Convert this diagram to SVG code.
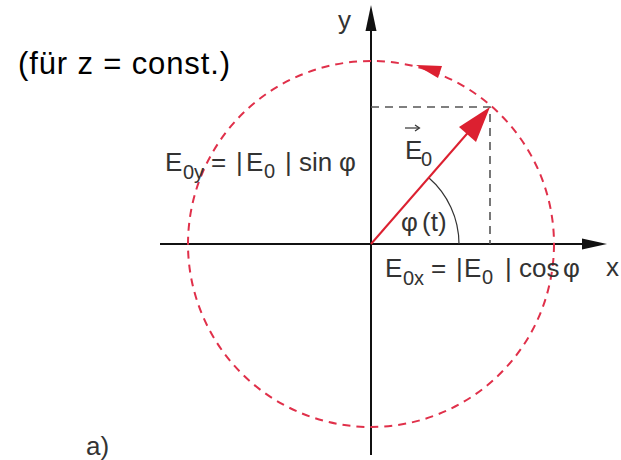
<svg xmlns="http://www.w3.org/2000/svg" width="621" height="460" viewBox="0 0 621 460">
<style>
.lbl{font-family:"Liberation Sans",Arial,sans-serif;font-size:26px;fill:#333}
.sub{font-size:20px}
.axis{stroke:#111;stroke-width:2;fill:none}
.dash{stroke:#555;stroke-width:1.6;stroke-dasharray:8 6;fill:none}
.circ{stroke:#e0304a;stroke-width:2;stroke-dasharray:8 6;fill:none}
.red{fill:#dc2030}
</style>
<rect width="621" height="460" fill="#fff"/>
<g id="connectors">
  <line class="axis" x1="371" y1="455" x2="371" y2="28"/>
  <polygon points="371,5 365.5,31 376.5,31" fill="#111"/>
  <line class="axis" x1="160" y1="244" x2="585" y2="244"/>
  <polygon points="607,244 582,238.5 582,249.5" fill="#111"/>
</g>
<g id="circle">
  <circle class="circ" cx="371" cy="244" r="183"/>
  <polygon class="red" points="416,65 442,66 438,78"/>
</g>
<g id="projections">
  <polyline class="dash" points="371,107 490,107 490,244"/>
</g>
<g id="angle">
  <path d="M459,244 A88,88 0 0 0 428.5,177.5" stroke="#333" stroke-width="1.2" fill="none"/>
</g>
<g id="vector">
  <line x1="371" y1="244" x2="472" y2="128" stroke="#dc2030" stroke-width="2"/>
  <polygon class="red" points="490,107 476,142 459,127"/>
</g>
<g id="labels">
  <text x="338" y="29" class="lbl" font-size="27">y</text>
  <text x="606" y="276" class="lbl" font-size="27">x</text>
  <text class="lbl"><tspan x="405" y="159">E</tspan><tspan class="sub" x="421" y="166">0</tspan></text>
  <line x1="405" y1="128" x2="419" y2="128" stroke="#333" stroke-width="1.2"/>
  <polyline points="415,125 419.5,128 415,131" stroke="#333" stroke-width="1.2" fill="none"/>
  <text class="lbl"><tspan x="401" y="231">φ</tspan><tspan x="422" y="231">(t)</tspan></text>
  <text class="lbl"><tspan x="165" y="171">E</tspan><tspan class="sub" x="183" y="179">0y</tspan><tspan x="211" y="171">=</tspan><tspan x="236" y="171">|</tspan><tspan x="246" y="171">E</tspan><tspan class="sub" x="264" y="178">0</tspan><tspan x="285" y="171">|</tspan><tspan x="299" y="171">sin</tspan><tspan x="339" y="171">φ</tspan></text>
  <text class="lbl"><tspan x="385" y="277">E</tspan><tspan class="sub" x="403" y="285">0x</tspan><tspan x="431" y="277">=</tspan><tspan x="456" y="277">|</tspan><tspan x="464" y="277">E</tspan><tspan class="sub" x="482" y="284">0</tspan><tspan x="505" y="277">|</tspan><tspan x="519" y="277">cos</tspan><tspan x="563" y="277">φ</tspan></text>
  <text x="18" y="74" font-family="Liberation Sans,Arial,sans-serif" font-size="31" fill="#000" textLength="212">(für z = const.)</text>
  <text x="86" y="455" class="lbl" font-size="25">a)</text>
</g>
</svg>
